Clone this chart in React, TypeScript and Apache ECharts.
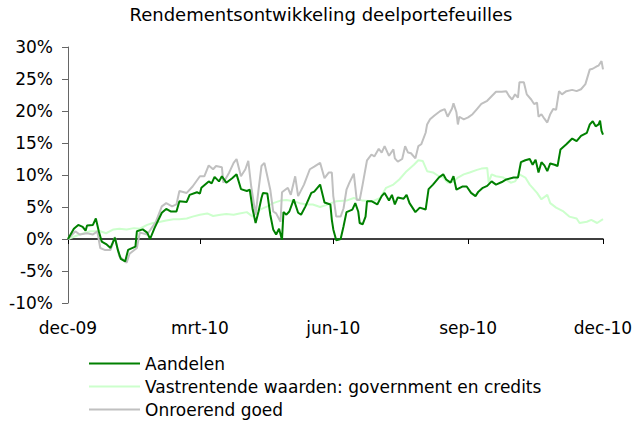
import React, { useEffect, useRef } from "react";
import * as echarts from "echarts";

// x positions are day offsets from 31-dec-2009
const tickDays = [0, 90, 181, 273, 365];
const tickLabels = ["dec-09", "mrt-10", "jun-10", "sep-10", "dec-10"];

const seriesNames = [
  "Aandelen",
  "Vastrentende waarden: government en credits",
  "Onroerend goed",
];

const aandelenDays = [0,4,7,10,12,13,17,19,21,23,26,29,32,34,36,39,41,46,47,51,54,56,59,64,67,70,74,76,81,83,88,90,91,96,98,100,103,105,108,112,115,118,122,124,126,128,130,132,133,136,138,140,142,144,146,147,149,151,154,157,159,162,166,168,172,175,179,180,181,183,186,188,190,194,196,198,199,201,203,204,207,211,214,216,219,221,223,225,229,231,233,237,240,244,246,249,253,256,258,261,263,265,269,272,275,278,280,283,286,289,292,296,299,304,307,309,312,315,317,319,321,323,325,327,329,332,334,336,340,344,347,350,354,356,358,360,362,363,364,365];
const aandelenValues = [0,1.6,2.2,1.9,1.3,2.1,2.2,3.2,1.2,-0.4,-0.8,-1.4,0.2,-1.7,-3.1,-3.5,-1.7,-1.2,1.2,1.5,1.0,0.0,1.7,4.1,4.7,4.3,4.3,5.9,5.8,6.9,7.3,7.1,8.0,9.0,8.7,9.7,9.0,9.8,8.8,9.5,10.1,7.8,7.5,7.7,4.6,2.5,4.3,6.4,7.2,7.1,3.8,1.5,0.7,1.6,-0.1,4.2,3.8,4.3,6.2,4.1,3.8,5.1,7.2,7.4,8.5,5.7,5.4,3.0,1.5,-0.2,0.0,2.0,4.2,4.6,5.6,4.3,2.5,2.3,3.5,5.9,5.9,5.4,6.7,7.2,6.0,6.9,5.4,6.5,6.3,6.9,5.6,4.2,4.9,4.6,7.8,8.5,9.6,10.1,9.3,8.8,9.8,7.7,8.2,8.2,7.2,6.7,7.4,8.0,8.3,9.0,8.5,8.9,9.3,9.6,9.6,12.0,12.3,12.5,11.6,12.4,10.4,12.0,11.5,10.6,11.8,11.6,11.4,14.0,14.8,15.7,15.3,16.1,16.6,17.9,18.4,17.6,17.9,18.5,16.9,16.3];

const vastrentendeDays = [0,8,15,22,26,31,35,40,45,49,54,58,63,67,72,76,81,85,90,95,99,104,108,113,117,122,126,131,136,140,145,149,154,158,163,167,172,176,183,190,195,201,208,213,217,222,226,231,236,239,242,245,249,253,256,259,263,266,270,274,279,282,286,287,289,292,297,302,305,308,312,315,320,323,327,329,333,338,342,347,349,354,357,361,365];
const vastrentendeValues = [0,0.7,1.2,1.2,0.9,1.5,1.6,1.5,1.7,1.6,2.2,2.5,2.7,2.9,3.1,3.1,3.2,3.5,3.8,4.0,3.6,3.8,3.9,3.8,4.0,4.2,3.5,4.6,5.1,5.6,6.0,6.1,5.9,5.6,5.4,5.4,5.0,5.3,5.9,6.0,6.4,6.0,5.9,6.4,8.0,8.5,9.3,10.6,11.6,12.3,12.2,10.6,10.4,9.8,9.6,8.8,9.0,9.6,10.1,10.4,10.8,11.0,11.1,8.8,10.1,9.8,9.6,8.8,9.0,10.1,9.6,8.5,7.2,6.2,6.9,5.6,4.9,4.3,3.5,3.2,2.5,2.7,3.0,2.5,3.1];

const onroerendDays = [0,5,8,13,17,20,22,25,29,32,35,40,42,47,49,54,57,60,64,67,71,74,76,81,85,90,93,96,99,101,105,106,110,113,115,118,121,123,125,128,130,132,134,136,138,140,142,145,146,150,152,155,157,161,165,168,172,175,178,180,181,183,186,188,190,192,195,197,199,201,204,207,209,212,214,216,219,222,223,225,228,230,232,234,237,239,241,244,245,247,250,254,257,259,262,263,265,266,267,270,273,276,279,282,286,289,292,296,299,301,303,305,307,308,311,313,316,318,320,321,323,325,327,329,331,333,335,337,340,344,347,350,353,356,358,361,362,364,365];
const onroerendValues = [0,1.2,0.7,0.9,0.7,1.2,-1.4,-1.7,-1.7,0.3,-2.7,-3.7,-2.3,-1.4,1.0,0.7,1.7,2.7,5.1,5.6,5.1,5.4,7.5,7.2,8.2,9.8,9.8,11.5,10.9,11.4,11.2,8.8,10.4,11.9,12.5,9.8,10.9,12.2,8.2,3.8,7.7,11.4,11.9,9.8,7.7,4.3,4.0,2.7,7.3,8.0,6.9,9.8,6.7,8.5,10.9,11.3,11.9,9.5,10.4,10.4,6.7,3.5,3.5,4.8,7.7,8.8,10.2,6.1,6.1,8.5,12.3,13.2,12.9,14.1,13.5,14.5,13.0,14.0,12.6,12.1,12.5,14.5,13.5,13.4,12.6,14.5,14.8,16.6,17.9,18.7,19.3,20.0,20.3,19.1,20.4,21.2,19.8,17.9,19.1,18.7,19.0,19.5,20.3,21.1,21.6,22.3,23.0,23.0,23.1,22.3,21.8,22.6,22.1,24.5,24.5,22.6,21.8,21.1,21.3,19.1,19.5,18.8,18.2,19.5,20.3,20.2,23.1,22.6,23.1,23.3,23.1,23.4,24.2,26.5,26.6,27.0,27.1,27.8,26.5];

const FONT = "DejaVu Sans";

function zip(days: number[], vals: number[]) {
  return days.map((d, i) => [d, vals[i]]);
}

export default function App() {
  const ref = useRef<HTMLDivElement>(null);
  useEffect(() => {
    document.body.style.margin = "0";
    const chart = echarts.init(ref.current!, null, { renderer: "svg" });
    const colors = ["#008000", "#ccffcc", "#c0c0c0"];
    chart.setOption({
      animation: false,
      backgroundColor: "#ffffff",
      title: {
        text: "Rendementsontwikkeling deelportefeuilles",
        left: "center",
        top: 5,
        padding: 0,
        textStyle: { fontFamily: FONT, fontSize: 18, fontWeight: "normal", color: "#000" },
      },
      legend: {
        orient: "vertical",
        left: 89,
        top: 355,
        height: 70,
        itemWidth: 51,
        itemHeight: 2,
        itemGap: 6,
        icon: "rect",
        padding: 0,
        data: seriesNames,
        textStyle: { fontFamily: FONT, fontSize: 17, color: "#000" },
      },
      grid: {
        left: 68,
        right: 39,
        top: 47,
        bottom: 122,
        containLabel: false,
        outerBoundsMode: "none",
      },
      xAxis: {
        type: "value",
        min: 0,
        max: 365,
        splitLine: { show: false },
        axisLine: { show: true, onZero: true, lineStyle: { color: "#000", width: 1.5 } },
        axisTick: { show: true, length: 5, customValues: tickDays, lineStyle: { color: "#000" } },
        axisLabel: {
          customValues: tickDays,
          margin: 16,
          fontFamily: FONT,
          fontSize: 17,
          color: "#000",
          formatter: (v: number) => {
            const i = tickDays.indexOf(v);
            return i >= 0 ? tickLabels[i] : "";
          },
        },
      },
      yAxis: {
        type: "value",
        min: -10,
        max: 30,
        interval: 5,
        splitLine: { show: false },
        axisLine: { show: true, lineStyle: { color: "#666", width: 1 } },
        axisTick: { show: true, length: 6, lineStyle: { color: "#666" } },
        axisLabel: {
          margin: 15,
          fontFamily: FONT,
          fontSize: 17,
          color: "#000",
          formatter: "{value}%",
        },
      },
      series: [
        { name: seriesNames[0], data: zip(aandelenDays, aandelenValues) },
        { name: seriesNames[1], data: zip(vastrentendeDays, vastrentendeValues) },
        { name: seriesNames[2], data: zip(onroerendDays, onroerendValues) },
      ].map((s, i) => ({
        ...s,
        type: "line",
        showSymbol: false,
        symbol: "none",
        color: colors[i],
        lineStyle: { width: 2, color: colors[i] },
        z: [4, 2, 3][i],
      })),
    });
    return () => chart.dispose();
  }, []);
  return <div ref={ref} style={{ width: 642, height: 425 }} />;
}
